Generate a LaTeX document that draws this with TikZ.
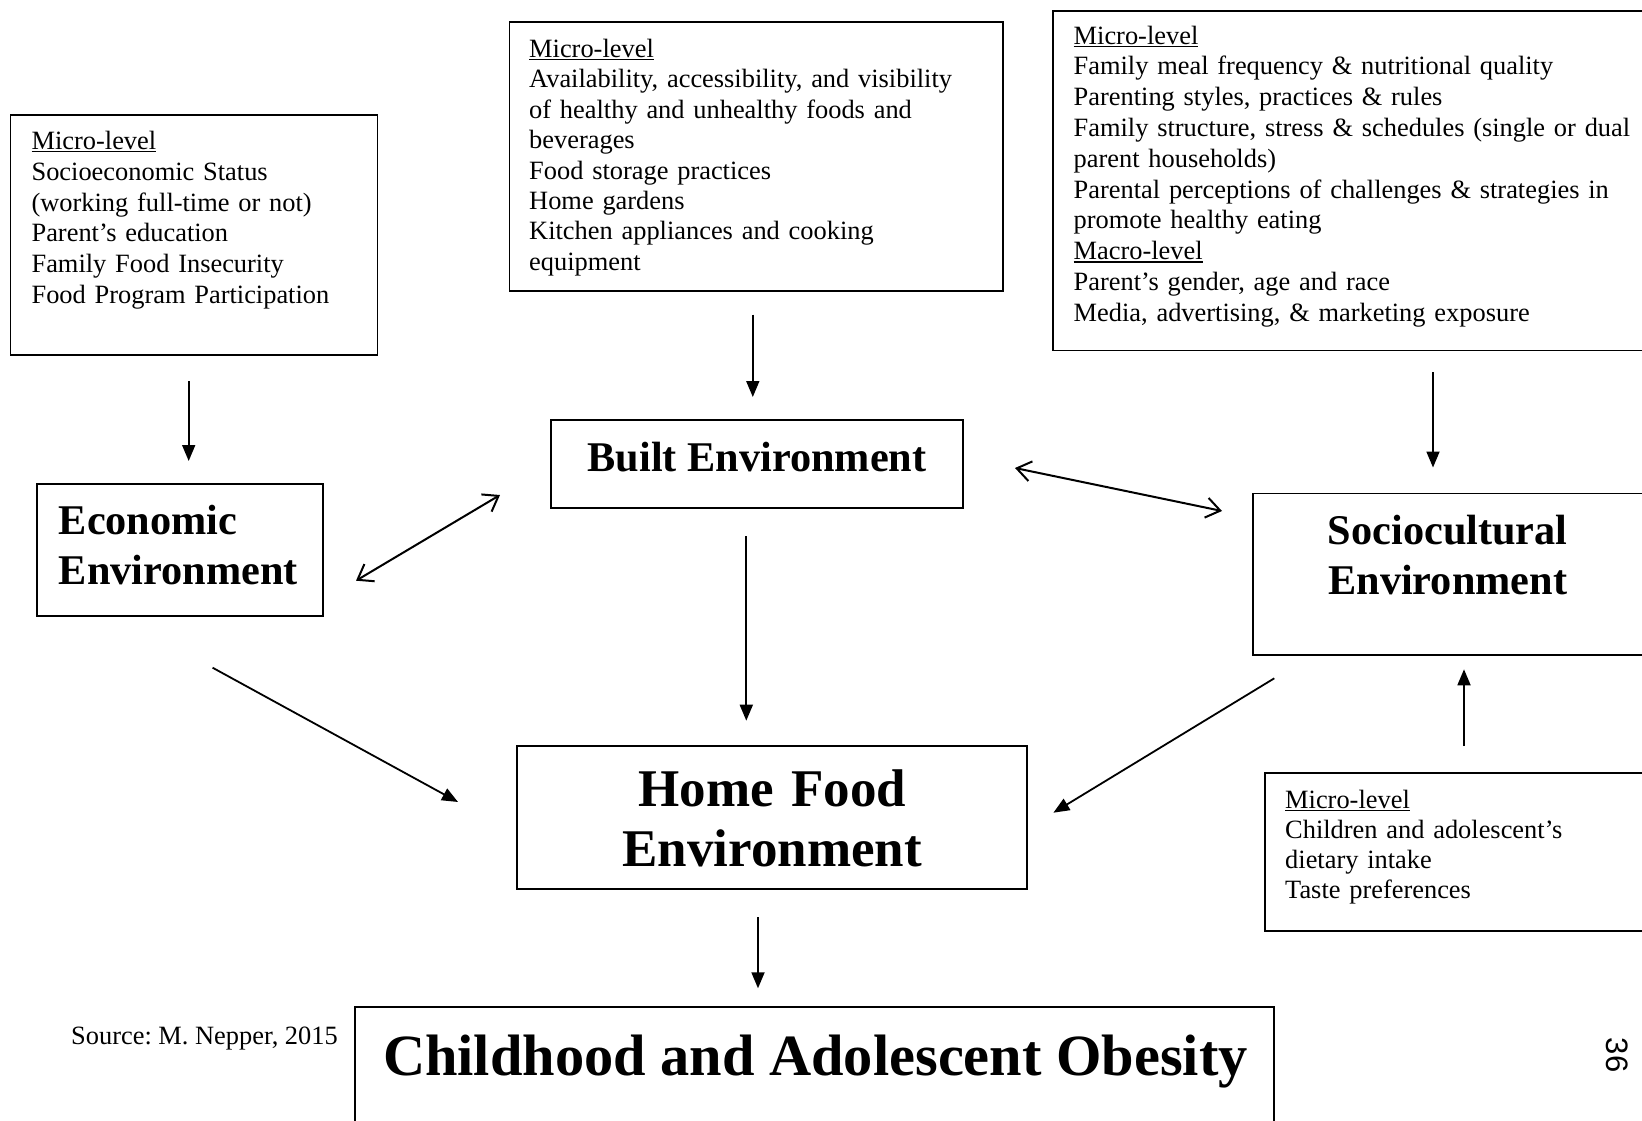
\documentclass[tikz,border=0pt]{standalone}
\usepackage{fontspec}
\setmainfont{Liberation Serif}
\newfontfamily\numfont{Liberation Sans}
\usetikzlibrary{arrows.meta}
\newcommand{\ulx}[1]{\leavevmode\setbox0\hbox{#1}\rlap{\rule[-0.11em]{\wd0}{0.05em}}\box0}
\frenchspacing
\begin{document}
\begin{tikzpicture}[x=1pt,y=-1pt,
  box/.style={draw, line width=1.8pt, anchor=north west, inner sep=0pt, outer sep=0pt},
  mtxt/.style={anchor=base west, align=left, inner sep=0pt, font=\fontsize{26.4}{30.8}\selectfont},
  ttl/.style={inner sep=0pt, font=\bfseries\fontsize{42.3}{50.2}\selectfont},
  farrow/.style={line width=1.8pt, -{Triangle[length=16pt,width=13pt]}},
  darrow/.style={line width=2pt, {Straight Barb[length=14pt,width=20pt]}-{Straight Barb[length=14pt,width=20pt]}}
]
\fill[white] (0,0) rectangle (1642,1121);
\useasboundingbox (0,0) rectangle (1642,1121);

% boxes
\node[box, minimum width=367pt, minimum height=239.5pt] (ecomicro) at (10.4,115.3) {};
\node[box, minimum width=493.2pt, minimum height=269.2pt] (builtmicro) at (509.4,22.1) {};
\node[box, minimum width=597pt, minimum height=339.6pt] (sociomicro) at (1053,10.8) {};
\node[box, minimum width=285.7pt, minimum height=132pt] (eco) at (37,484) {};
\node[box, minimum width=412pt, minimum height=88pt] (built) at (551,420) {};
\node[box, minimum width=397pt, minimum height=161.3pt] (socio) at (1252.8,493.5) {};
\node[box, minimum width=509.9pt, minimum height=142.7pt] (home) at (517.3,746) {};
\node[box, minimum width=385pt, minimum height=157.7pt] (childmicro) at (1265,773.3) {};
\node[box, minimum width=919.3pt, minimum height=140pt] (obesity) at (355,1007) {};

% micro texts
\node[mtxt, text width=345pt] (ecomicrotxt) at (31.4,149.5) {\ulx{Micro-level}\\Socioeconomic Status\\(working full-time or not)\\Parent’s education\\Family Food Insecurity\\Food Program Participation};
\node[mtxt, text width=465pt, font=\fontsize{26.4}{30.4}\selectfont] (builtmicrotxt) at (529,57.5) {\ulx{Micro-level}\\Availability, accessibility, and visibility\\of healthy and unhealthy foods and\\beverages\\Food storage practices\\Home gardens\\Kitchen appliances and cooking\\equipment};
\node[mtxt, text width=565pt] (sociomicrotxt) at (1073.5,44.2) {\ulx{Micro-level}\\Family meal frequency \& nutritional quality\\Parenting styles, practices \& rules\\Family structure, stress \& schedules (single or dual\\parent households)\\Parental perceptions of challenges \& strategies in\\promote healthy eating\\\ulx{Macro-level}\\Parent’s gender, age and race\\Media, advertising, \& marketing exposure};
\node[mtxt, text width=350pt, font=\fontsize{26.4}{30}\selectfont] (childmicrotxt) at (1285,808.3) {\ulx{Micro-level}\\Children and adolescent’s\\dietary intake\\Taste preferences};

% titles
\node[ttl, anchor=base west, align=left, text width=280pt] (ecotxt) at (58.6,534.4) {Economic\\Environment};
\node[ttl, anchor=base] (builttxt) at (757,471) {Built Environment};
\node[ttl, anchor=base, align=center, text width=320pt] (sociotxt) at (1447.8,544.2) {Sociocultural\\Environment};
\node[ttl, anchor=base, align=center, text width=480pt, font=\bfseries\fontsize{53}{60.7}\selectfont] (hometxt) at (772.3,806) {Home Food\\Environment};
\node[ttl, anchor=base, font=\bfseries\fontsize{58.4}{70}\selectfont] (obesitytxt) at (815.5,1075) {Childhood and Adolescent Obesity};

% other text
\node[mtxt] (source) at (71,1044) {Source: M. Nepper, 2015};
\node[inner sep=0pt, rotate=-90, font=\numfont\fontsize{31}{36}\selectfont] (pagenum) at (1617,1055) {36};

% arrow end points
\coordinate (a1s) at (188.7,381);   \coordinate (a1e) at (188.7,461);
\coordinate (a2s) at (752.8,314.6); \coordinate (a2e) at (752.8,397);
\coordinate (a3s) at (1433,372);    \coordinate (a3e) at (1433,467.5);
\coordinate (a4s) at (356,580.7);   \coordinate (a4e) at (500,495);
\coordinate (a5s) at (1015,468);    \coordinate (a5e) at (1222,511);
\coordinate (a6s) at (746.3,536.4); \coordinate (a6e) at (746.3,720.7);
\coordinate (a7s) at (212.6,667.7); \coordinate (a7e) at (458,802);
\coordinate (a8s) at (1274.3,678.3);\coordinate (a8e) at (1053.4,812.7);
\coordinate (a9s) at (1464,746);    \coordinate (a9e) at (1464,669.3);
\coordinate (a10s) at (758,917.3);  \coordinate (a10e) at (758,988.3);

\draw[farrow] (a1s) -- (a1e);
\draw[farrow] (a2s) -- (a2e);
\draw[farrow] (a3s) -- (a3e);
\draw[darrow] (a4s) -- (a4e);
\draw[darrow] (a5s) -- (a5e);
\draw[farrow] (a6s) -- (a6e);
\draw[farrow] (a7s) -- (a7e);
\draw[farrow] (a8s) -- (a8e);
\draw[farrow] (a9s) -- (a9e);
\draw[farrow] (a10s) -- (a10e);
\end{tikzpicture}
\end{document}
